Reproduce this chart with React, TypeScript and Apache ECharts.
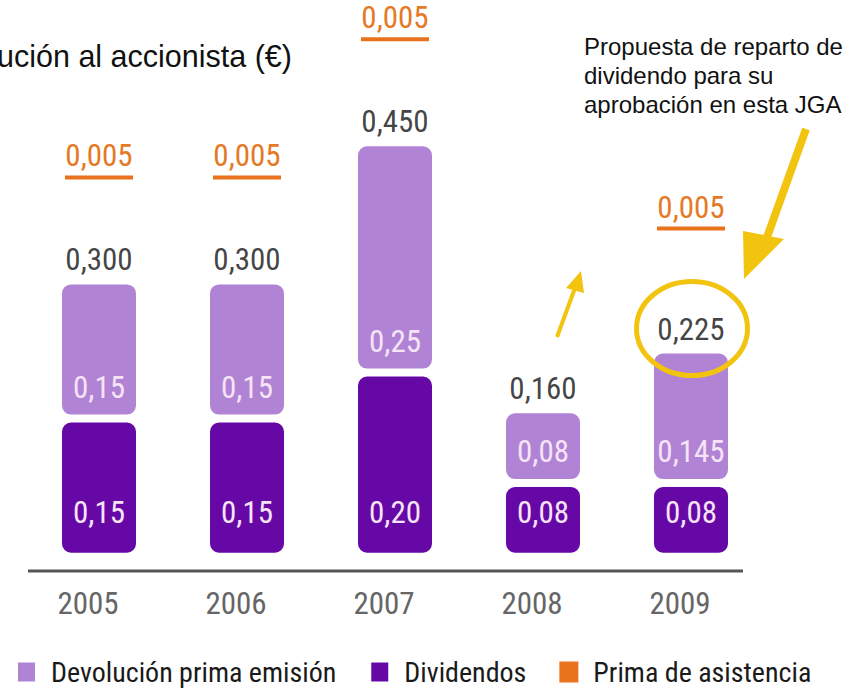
import React, { useEffect, useRef } from "react";
import * as echarts from "echarts";

const categories = ["2005", "2006", "2007", "2008", "2009"];
const dividendos = [0.15, 0.15, 0.2, 0.08, 0.08];
const devolucionPrima = [0.15, 0.15, 0.25, 0.08, 0.145];
const primaAsistencia: (number | null)[] = [0.005, 0.005, 0.005, null, 0.005];
const legendNames = ["Devolución prima emisión", "Dividendos", "Prima de asistencia"];
const titleText = "ución al accionista (€)";
const noteText = "Propuesta de reparto de\ndividendo para su\naprobación en esta JGA";

const totals = categories.map((_, i) => dividendos[i] + devolucionPrima[i]);

const fmt = (v: number, d: number) => v.toFixed(d).replace(".", ",");
const fmtSeg = (v: number) => (Math.round(v * 1000) % 10 !== 0 ? fmt(v, 3) : fmt(v, 2));

const NUM_FONT = "'Roboto Condensed', 'Liberation Sans Narrow', 'Open Sans', sans-serif";
const ARIAL = "'Liberation Sans', Arial, sans-serif";
const LIGHT = "#b083d4";
const DARK = "#6608a6";
const ORANGE = "#e8731c";
const YELLOW = "#f2c30f";

export default function App() {
  const ref = useRef<HTMLDivElement>(null);
  useEffect(() => {
    if (!ref.current) return;
    const chart = echarts.init(ref.current, undefined, { renderer: "svg" });
    const option: any = {
      animation: false,
      grid: { left: 25, right: 86, top: 0, bottom: 119 },
      xAxis: {
        type: "category",
        data: categories,
        axisLine: { show: false },
        axisTick: { show: false },
        axisLabel: {
          color: "#666",
          fontSize: 31,
          fontFamily: NUM_FONT,
          margin: 17,
          padding: [0, 22, 0, 0],
        },
      },
      yAxis: { type: "value", min: -0.0155, max: 0.6045, show: false, splitLine: { show: false } },
      legend: {
        data: legendNames,
        icon: "rect",
        itemWidth: 19,
        itemHeight: 21,
        itemGap: 33,
        left: 16,
        top: 658,
        padding: 0,
        selectedMode: false,
        textStyle: { fontSize: 28, color: "#1a1a1a", fontFamily: NUM_FONT, padding: [0, 0, 0, 10] },
      },
      series: [
        {
          name: "Dividendos",
          type: "bar",
          stack: "t",
          barWidth: 82,
          data: dividendos,
          itemStyle: { color: DARK, borderColor: "#fff", borderWidth: 4, borderRadius: 11 },
          label: {
            show: true,
            position: "insideBottom",
            distance: 29,
            color: "#f6e4f6",
            fontSize: 31,
            fontFamily: NUM_FONT,
            formatter: (p: any) => fmtSeg(p.value),
          },
        },
        {
          name: "Devolución prima emisión",
          type: "bar",
          stack: "t",
          barWidth: 82,
          data: devolucionPrima,
          itemStyle: { color: LIGHT, borderColor: "#fff", borderWidth: 4, borderRadius: 11 },
          label: {
            show: true,
            position: "insideBottom",
            distance: 16,
            color: "#f6e4f6",
            fontSize: 31,
            fontFamily: NUM_FONT,
            formatter: (p: any) => fmtSeg(p.value),
          },
        },
        {
          name: "Total",
          type: "scatter",
          data: totals,
          symbolSize: 0,
          silent: true,
          label: {
            show: true,
            position: "top",
            distance: 5,
            color: "#111",
            fontSize: 31,
            fontFamily: NUM_FONT,
            formatter: (p: any) => fmt(p.value, 3),
          },
        },
        {
          name: "Prima de asistencia",
          type: "scatter",
          symbol: "rect",
          symbolSize: [68, 4],
          silent: true,
          itemStyle: { color: ORANGE, opacity: 1 },
          data: categories.map((_, i) =>
            primaAsistencia[i] == null
              ? "-"
              : { value: totals[i], symbolOffset: [0, i === 4 ? -121 : -103] }
          ),
          label: {
            show: true,
            position: "top",
            distance: 4,
            color: "#e47a26",
            fontSize: 31,
            fontFamily: NUM_FONT,
            formatter: (p: any) => fmt(primaAsistencia[p.dataIndex] as number, 3),
          },
        },
      ],
      graphic: [
        {
          type: "text",
          x: -3,
          y: 56,
          z: 100,
          style: { text: titleText, font: `30.5px ${ARIAL}`, fill: "#111", verticalAlign: "middle" },
        },
        {
          type: "text",
          x: 584,
          y: 32,
          z: 100,
          style: { text: noteText, font: `24px ${ARIAL}`, lineHeight: 29, fill: "#111", verticalAlign: "top" },
        },
        {
          type: "line",
          z: 100,
          shape: { x1: 28, y1: 571, x2: 743, y2: 571 },
          style: { stroke: "#555", lineWidth: 3 },
        },
        {
          type: "ellipse",
          z: 100,
          shape: { cx: 692, cy: 328.5, rx: 55.5, ry: 47 },
          style: { fill: "none", stroke: YELLOW, lineWidth: 5 },
        },
        {
          type: "line",
          z: 100,
          shape: { x1: 806, y1: 129, x2: 766, y2: 240 },
          style: { stroke: YELLOW, lineWidth: 8 },
        },
        {
          type: "polygon",
          z: 100,
          shape: { points: [[743, 231], [784, 239], [744, 279]] },
          style: { fill: YELLOW },
        },
        {
          type: "line",
          z: 100,
          shape: { x1: 557, y1: 337, x2: 575, y2: 288 },
          style: { stroke: YELLOW, lineWidth: 4 },
        },
        {
          type: "polygon",
          z: 100,
          shape: { points: [[581, 271], [566, 288], [584, 293]] },
          style: { fill: YELLOW },
        },
      ],
    };
    chart.setOption(option);
    return () => chart.dispose();
  }, []);
  return (
    <div
      ref={ref}
      style={{ position: "absolute", left: 0, top: 0, width: 851, height: 690 }}
    />
  );
}
